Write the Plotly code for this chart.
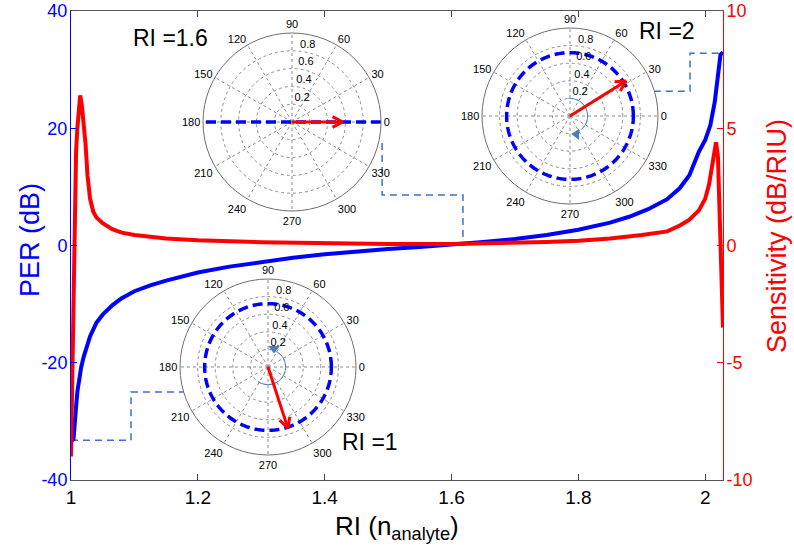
import numpy as np
import plotly.graph_objects as go

# ---------------- data ----------------
ri_per = [1.000, 1.002, 1.004, 1.006, 1.008, 1.010, 1.013, 1.016, 1.020, 1.025,
          1.030, 1.040, 1.050, 1.065, 1.080, 1.100, 1.125, 1.150, 1.175, 1.200,
          1.250, 1.300, 1.350, 1.400, 1.450, 1.500, 1.550, 1.600, 1.650, 1.700,
          1.750, 1.800, 1.850, 1.880, 1.910, 1.940, 1.960, 1.975, 1.990, 2.000,
          2.008, 2.015, 2.020, 2.024, 2.028]
per_db = [-33.2, -33.2, -33.0, -31.0, -27.5, -25.0, -22.5, -20.8, -19.0, -17.0,
          -15.5, -13.2, -11.8, -10.2, -9.0, -7.8, -6.8, -6.0, -5.3, -4.6,
          -3.6, -2.8, -2.1, -1.5, -1.0, -0.6, -0.25, 0.1, 0.6, 1.1,
          1.8, 2.7, 3.9, 4.9, 6.2, 7.9, 9.8, 12.0, 16.0, 18.0,
          20.5, 24.5, 29.0, 32.5, 33.0]

ri_sens = [1.000, 1.002, 1.004, 1.006, 1.008, 1.010, 1.012, 1.0145, 1.017, 1.020,
           1.023, 1.026, 1.030, 1.035, 1.040, 1.050, 1.065, 1.080, 1.100, 1.150,
           1.200, 1.300, 1.400, 1.500, 1.600, 1.700, 1.750, 1.800, 1.850, 1.900,
           1.940, 1.960, 1.975, 1.990, 2.000, 2.006, 2.010, 2.014, 2.017, 2.020,
           2.022, 2.024, 2.026, 2.028]
sens = [-9.0, -5.5, -1.5, 2.0, 4.0, 5.0, 5.8, 6.4, 6.0, 5.2,
        4.3, 3.0, 2.0, 1.45, 1.2, 0.95, 0.7, 0.55, 0.45, 0.30,
        0.22, 0.14, 0.09, 0.06, 0.06, 0.10, 0.15, 0.20, 0.30, 0.45,
        0.60, 0.85, 1.10, 1.50, 2.0, 2.6, 3.3, 4.1, 4.4, 3.8,
        2.0, 0.0, -2.0, -3.5]

# dashed leader lines (RI, PER)
lead_x = [1.0, 1.0946, 1.0946, 1.20, None,
          1.4905, 1.4905, 1.618, 1.618, None,
          1.90, 1.976, 1.976, 2.028]
lead_y = [-33.2, -33.2, -25.0, -25.0, None,
          17.5, 8.6, 8.6, 0.3, None,
          26.3, 26.3, 32.8, 32.8]

x_ticks = [1, 1.2, 1.4, 1.6, 1.8, 2]
x_ticktext = ["1", "1.2", "1.4", "1.6", "1.8", "2"]
y1_ticks = [-40, -20, 0, 20, 40]
y1_ticktext = ["-40", "-20", "0", "20", "40"]
y2_ticks = [-10, -5, 0, 5, 10]
y2_ticktext = ["-10", "-5", "0", "5", "10"]

# polar insets
inset_labels = ["RI =1.6", "RI =2", "RI =1"]
ellipse_r = [None, 0.72, 0.72]          # None -> linear polarisation (diameter)
arrow_r = [0.57, 0.75, 0.73]
arrow_theta = [0, 32, 288]
arc_start = [None, 95, -125]
arc_end = [None, -50, 60]
arc_marker_theta = [None, -70, 72]
arc_marker_symbol = [None, "triangle-left", "triangle-down"]
polar_angles = list(range(0, 360, 30))
radial_ticks = [0.2, 0.4, 0.6, 0.8, 1]
radial_ticktext = ["0.2", "0.4", "0.6", "0.8", "1"]

# ---------------- layout geometry (pixels) ----------------
W, H = 794, 552
L, R, T, B = 71, 723, 11, 480
pw, ph = R - L, B - T


def px(xp):
    return (xp - L) / pw


def py(yp):
    return (B - yp) / ph


inset_centers = [(292, 122, 89), (570, 116, 88), (268, 367, 88)]

FONT = "Liberation Sans, Arial, sans-serif"
NARROW = "Liberation Sans Narrow, Arial Narrow, Liberation Sans, sans-serif"

fig = go.Figure()

fig.add_trace(go.Scatter(x=lead_x, y=lead_y, mode="lines",
                         line=dict(color="#3d6fd1", width=1.5, dash="7px,5px"),
                         yaxis="y", showlegend=False, hoverinfo="skip"))
fig.add_trace(go.Scatter(x=ri_per, y=per_db, mode="lines",
                         line=dict(color="#0000ff", width=4),
                         yaxis="y", showlegend=False))
fig.add_trace(go.Scatter(x=ri_sens, y=sens, mode="lines",
                         line=dict(color="#ff0000", width=4),
                         yaxis="y2", showlegend=False))

polar_layouts = {}
for i in range(3):
    name = "polar" if i == 0 else f"polar{i+1}"
    cx, cy, rr = inset_centers[i]
    polar_layouts[name] = dict(
        domain=dict(x=[px(cx - rr), px(cx + rr)], y=[py(cy + rr), py(cy - rr)]),
        bgcolor="white",
        angularaxis=dict(rotation=0, direction="counterclockwise",
                         tickmode="array", tickvals=polar_angles,
                         ticktext=[str(a) for a in polar_angles],
                         showline=True, linecolor="#6e6e6e", linewidth=1,
                         gridcolor="#8c8c8c", griddash="dot", gridwidth=1,
                         ticks="", tickfont=dict(size=11, color="black", family=FONT)),
        radialaxis=dict(range=[0, 1], tickmode="array", tickvals=radial_ticks,
                        showticklabels=False, showline=False, ticks="", angle=90,
                        gridcolor="#8c8c8c", griddash="dot", gridwidth=1),
    )
    sub = name
    # polarisation ellipse / line
    if ellipse_r[i] is None:
        fig.add_trace(go.Scatterpolar(r=[1, 1], theta=[0, 180], mode="lines",
                                      line=dict(color="#0000ff", width=3.5, dash="10px,5px"),
                                      subplot=sub, showlegend=False))
    else:
        th = np.arange(0, 362, 2)
        fig.add_trace(go.Scatterpolar(r=[ellipse_r[i]] * len(th), theta=th, mode="lines",
                                      line=dict(color="#0000ff", width=3.5, dash="10px,5px"),
                                      subplot=sub, showlegend=False))
    # radial tick labels (MATLAB style, just right of the 90 deg spoke)
    fig.add_trace(go.Scatterpolar(r=[v + 0.07 for v in radial_ticks], theta=[84] * len(radial_ticks),
                                  mode="text", text=radial_ticktext, textposition="middle right",
                                  textfont=dict(size=11, color="black", family=FONT),
                                  cliponaxis=False, subplot=sub, showlegend=False,
                                  hoverinfo="skip"))
    # rotation arc
    if arc_start[i] is not None:
        th = np.linspace(arc_start[i], arc_end[i], 40)
        fig.add_trace(go.Scatterpolar(r=[0.2] * len(th), theta=th, mode="lines",
                                      line=dict(color="#4a7ebb", width=1),
                                      subplot=sub, showlegend=False))
        fig.add_trace(go.Scatterpolar(r=[0.22], theta=[arc_marker_theta[i]], mode="markers",
                                      marker=dict(color="#4a7ebb", size=10,
                                                  symbol=arc_marker_symbol[i]),
                                      subplot=sub, showlegend=False))
    # red arrow
    ar, at = arrow_r[i], np.deg2rad(arrow_theta[i])
    tipx, tipy = ar * np.cos(at), ar * np.sin(at)
    head = 0.13
    pts_r, pts_t = [], []
    for s in (+1, -1):
        a = at + np.pi + s * np.deg2rad(28)
        hx, hy = tipx + head * np.cos(a), tipy + head * np.sin(a)
        pts_r.append(float(np.hypot(hx, hy)))
        pts_t.append(float(np.rad2deg(np.arctan2(hy, hx))))
    fig.add_trace(go.Scatterpolar(r=[0, ar], theta=[arrow_theta[i], arrow_theta[i]], mode="lines",
                                  line=dict(color="#ff0000", width=3),
                                  subplot=sub, showlegend=False))
    fig.add_trace(go.Scatterpolar(r=[pts_r[0], ar, pts_r[1]],
                                  theta=[pts_t[0], arrow_theta[i], pts_t[1]], mode="lines",
                                  line=dict(color="#ff0000", width=3),
                                  subplot=sub, showlegend=False))

label_pos = [(170, 38), (667, 31), (370, 442)]
annotations = []
for lab, (lx, ly) in zip(inset_labels, label_pos):
    annotations.append(dict(text=lab, x=px(lx), y=py(ly), xref="paper", yref="paper",
                            xanchor="center", yanchor="middle", showarrow=False,
                            font=dict(size=23, color="black", family=FONT)))
annotations.append(dict(text="PER (dB)", x=px(30), y=py(240), xref="paper", yref="paper",
                        textangle=-90, showarrow=False, xanchor="center", yanchor="middle",
                        font=dict(size=27, color="#0000ff", family=FONT)))
annotations.append(dict(text="Sensitivity (dB/RIU)", x=px(777), y=py(236), xref="paper", yref="paper",
                        textangle=-90, showarrow=False, xanchor="center", yanchor="middle",
                        font=dict(size=27, color="#ff0000", family=FONT)))
annotations.append(dict(text="RI (n<sub>analyte</sub>)", x=0.5, y=py(527), xref="paper", yref="paper",
                        showarrow=False, xanchor="center", yanchor="middle",
                        font=dict(size=26, color="black", family=NARROW)))

fig.update_layout(
    template="none",
    width=W, height=H,
    margin=dict(l=L, r=W - R, t=T, b=H - B, autoexpand=False),
    paper_bgcolor="white", plot_bgcolor="white",
    font=dict(family=FONT),
    showlegend=False,
    hovermode=False,
    xaxis=dict(range=[1, 2.028], tickmode="array", tickvals=x_ticks, ticktext=x_ticktext,
               ticks="inside", ticklen=6, tickcolor="#444", showline=True, linecolor="#555",
               linewidth=1, mirror="ticks", showgrid=False, zeroline=False, automargin=False,
               tickfont=dict(size=19, color="black", family=NARROW)),
    yaxis=dict(range=[-40, 40], tickmode="array", tickvals=y1_ticks, ticktext=y1_ticktext,
               ticks="inside", ticklen=6, tickcolor="#0000ff", showline=True,
               linecolor="#0000ff", linewidth=1, showgrid=False, zeroline=False, automargin=False,
               ticklabelstandoff=-1,
               tickfont=dict(size=18, color="#0000ff", family=FONT)),
    yaxis2=dict(range=[-10, 10], tickmode="array", tickvals=y2_ticks, ticktext=y2_ticktext,
                overlaying="y", side="right",
                ticks="inside", ticklen=6, tickcolor="#ff0000", showline=True,
                linecolor="#ff0000", linewidth=1, showgrid=False, zeroline=False, automargin=False,
                ticklabelstandoff=-1,
                tickfont=dict(size=18, color="#ff0000", family=FONT)),
    annotations=annotations,
    **polar_layouts,
)

fig.write_html("out.html", config={"displayModeBar": False, "staticPlot": True},
               post_script="document.body.style.margin='0px';document.body.style.overflow='hidden';")
